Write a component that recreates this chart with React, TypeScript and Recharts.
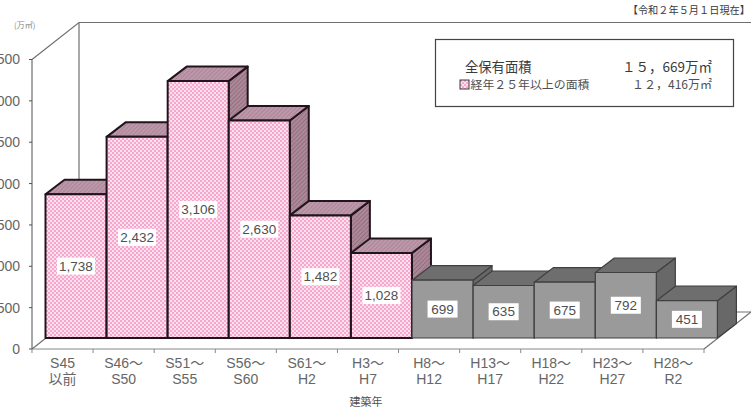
import React from 'react';
import { ComposedChart, Bar, XAxis, YAxis, LabelList } from 'recharts';

const categories = [
  ['S45', '以前'], ['S46～', 'S50'], ['S51～', 'S55'], ['S56～', 'S60'], ['S61～', 'H2'], ['H3～', 'H7'],
  ['H8～', 'H12'], ['H13～', 'H17'], ['H18～', 'H22'], ['H23～', 'H27'], ['H28～', 'R2'],
];
const areaValues = [1738, 2432, 3106, 2630, 1482, 1028, 699, 635, 675, 792, 451];
const yTicks = [0, 500, 1000, 1500, 2000, 2500, 3000, 3500];
const OVER_25_COUNT = 6; // 経年25年以上

const data = categories.map((c, i) => ({ key: c.join(''), top: c[0], bottom: c[1], value: areaValues[i], old: i < OVER_25_COUNT }));

const FONT = '"Liberation Sans", "Noto Sans CJK JP", sans-serif';
const CJK = '"Noto Sans CJK JP", sans-serif';
const TEXT = '#666666';

// bars sit back from the front axis, 3d depth on top of that
const OFF_X = 13.5;
const OFF_Y = 11;
const DEPTH_X = 19;
const DEPTH_Y = 14.5;

const Box3D = (props: any) => {
  const { x, y, width, height, payload } = props;
  const l = x + OFF_X;
  const r = l + width;
  const t = y - OFF_Y;
  const b = t + height;
  const old = payload.old;
  const stroke = old ? '#21141c' : '#404040';
  const sw = old ? 2 : 1.2;
  return (
    <g stroke={stroke} strokeWidth={sw} strokeLinejoin="round">
      <path d={`M${r},${t} L${r + DEPTH_X},${t - DEPTH_Y} L${r + DEPTH_X},${b - DEPTH_Y} L${r},${b} Z`} fill={old ? 'url(#sideHatch)' : '#686868'} />
      <path d={`M${l},${t} L${l + DEPTH_X},${t - DEPTH_Y} L${r + DEPTH_X},${t - DEPTH_Y} L${r},${t} Z`} fill={old ? 'url(#topHatch)' : '#6e6e6e'} />
      <rect x={l} y={t} width={width} height={height} fill={old ? 'url(#pinkCheck)' : '#9a9a9a'} />
    </g>
  );
};

const ValueLabel = (props: any) => {
  const { x, y, width, height, value } = props;
  const cx = x + OFF_X + width / 2;
  const cy = y - OFF_Y + height / 2;
  const text = value.toLocaleString('en-US');
  const w = text.length > 3 ? 38 : 30;
  return (
    <g>
      <rect x={cx - w / 2} y={cy - 8.5} width={w} height={17} fill="#ffffff" />
      <text x={cx} y={cy + 4.5} textAnchor="middle" fontSize={13.5} fontFamily={FONT} fill="#505050">{text}</text>
    </g>
  );
};

const XTick = (props: any) => {
  const { x, y, payload, index, visibleTicksCount } = props;
  const half = 61.1 / 2;
  const row = data[index] ?? data.find((d) => d.key === payload.value);
  return (
    <g>
      <line x1={x - half} x2={x - half} y1={y - 8} y2={y - 4} stroke="#888888" />
      {index === visibleTicksCount - 1 && <line x1={x + half} x2={x + half} y1={y - 8} y2={y - 4} stroke="#888888" />}
      <text x={x} y={y + 11} textAnchor="middle" fontSize={14} fontFamily={FONT} fill={TEXT}>{row.top}</text>
      <text x={x} y={y + 27} textAnchor="middle" fontSize={14} fontFamily={FONT} fill={TEXT}>{row.bottom}</text>
    </g>
  );
};

export default function App() {
  return (
    <div style={{ position: 'absolute', left: 0, top: 0, width: 751, height: 412, background: '#fff', overflow: 'hidden' }}>
      <ComposedChart
        width={751}
        height={412}
        data={data}
        barCategoryGap={0}
        margin={{ top: 59.5, right: 47, bottom: 0, left: 0 }}
      >
        <defs>
          <pattern id="pinkCheck" width="4" height="4" patternUnits="userSpaceOnUse">
            <rect width="4" height="4" fill="#fde0ee" />
            <rect width="2" height="2" fill="#f7a6cd" />
            <rect x="2" y="2" width="2" height="2" fill="#f7a6cd" />
          </pattern>
          <pattern id="topHatch" width="3" height="3" patternUnits="userSpaceOnUse" patternTransform="rotate(45)">
            <rect width="3" height="3" fill="#bd97aa" />
            <rect width="1" height="3" fill="#ab8598" />
          </pattern>
          <pattern id="sideHatch" width="3" height="3" patternUnits="userSpaceOnUse" patternTransform="rotate(45)">
            <rect width="3" height="3" fill="#ad8899" />
            <rect width="1" height="3" fill="#93707f" />
          </pattern>
        </defs>

        {/* 奥の壁と床 */}
        <g fill="none" stroke="#707070" strokeWidth={1.2}>
          <path d="M32,59.5 L79,22.5 L751,22.5" />
          <path d="M79,22.5 L79,312" />
          <path d="M32,349 L79,312" />
          <path d="M704,349 L751,312" />
          <path d="M704,312 L751,312" />
        </g>

        <XAxis
          dataKey="key"
          height={63}
          interval={0}
          tickLine={false}
          axisLine={{ stroke: '#888888' }}
          tick={<XTick />}
        />
        <YAxis
          width={32}
          domain={[0, 3500]}
          ticks={yTicks}
          interval={0}
          tickSize={3}
          tickMargin={9}
          tickFormatter={(v: number) => v.toLocaleString('en-US')}
          axisLine={{ stroke: '#505050' }}
          tickLine={{ stroke: '#505050' }}
          tick={{ fontSize: 14, fontFamily: FONT, fill: TEXT }}
        />
        <Bar dataKey="value" shape={<Box3D />} isAnimationActive={false}>
          <LabelList dataKey="value" content={<ValueLabel />} />
        </Bar>

        <text x={14} y={27.5} fontSize={8} fontFamily={CJK} fill="#888888">(万㎡)</text>
        <text x={750} y={14} textAnchor="end" fontSize={10.2} fontFamily={CJK} fill="#3a3a3a">【令和２年５月１日現在】</text>
        <text x={366} y={405.5} textAnchor="middle" fontSize={11} fontFamily={CJK} fill="#505050">建築年</text>

        <rect x={435.5} y={39.5} width={298} height={67} fill="#ffffff" stroke="#444444" strokeWidth={1.2} />
        <text x={465} y={72} fontSize={13.3} fontFamily={CJK} fill="#3a3a3a">全保有面積</text>
        <text x={712} y={72} textAnchor="end" fontSize={13.5} fontFamily={CJK} fill="#3a3a3a">１５，669万㎡</text>
        <rect x={460} y={80} width={9} height={9} fill="url(#pinkCheck)" stroke="#3a3a3a" />
        <text x={470.5} y={89} fontSize={11.9} fontFamily={CJK} fill="#505050">経年２５年以上の面積</text>
        <text x={712} y={89} textAnchor="end" fontSize={12} fontFamily={CJK} fill="#505050">１２，416万㎡</text>
      </ComposedChart>
    </div>
  );
}
